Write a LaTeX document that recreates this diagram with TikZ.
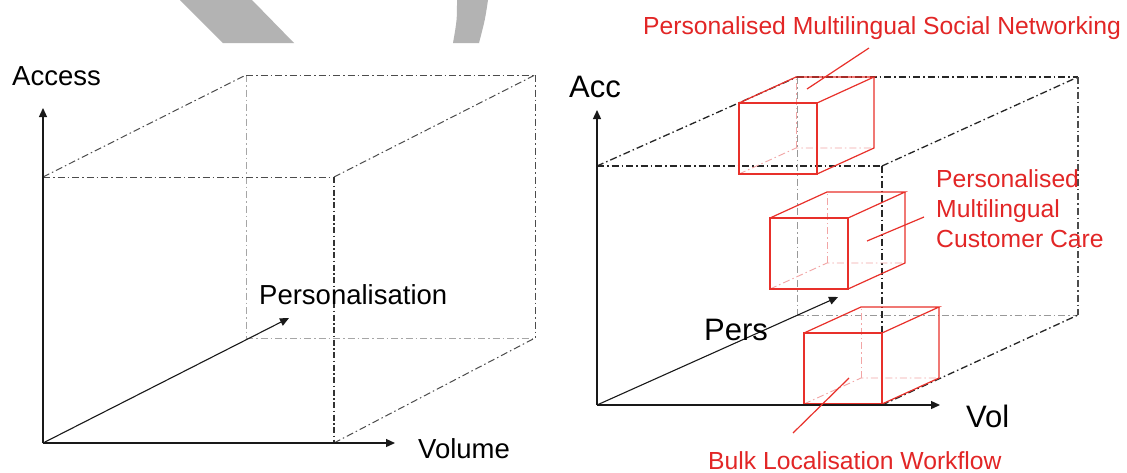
\documentclass[tikz,border=0pt]{standalone}
\usepackage{fontspec}
\setmainfont{Liberation Sans}
\usetikzlibrary{arrows.meta}
\definecolor{redline}{RGB}{232,48,42}
\definecolor{redtext}{RGB}{226,38,38}
\definecolor{pinkhid}{RGB}{242,165,165}
\definecolor{wmgray}{RGB}{179,179,179}
\newcommand{\drawredbox}[3]{%
  \coordinate (#1-ftl) at (#2,#3);
  \coordinate (#1-ftr) at ({#2+78},#3);
  \coordinate (#1-fbr) at ({#2+78},{#3+71});
  \coordinate (#1-fbl) at (#2,{#3+71});
  \coordinate (#1-btl) at ({#2+57},{#3-26});
  \coordinate (#1-btr) at ({#2+135},{#3-26});
  \coordinate (#1-bbr) at ({#2+135},{#3+45});
  \coordinate (#1-bbl) at ({#2+57},{#3+45});
  \draw[hidbox] (#1-fbl) -- (#1-bbl) -- (#1-bbr);
  \draw[hidbox] (#1-bbl) -- (#1-btl);
  \draw[redbox] (#1-ftl) -- (#1-ftr) -- (#1-fbr) -- (#1-fbl) -- cycle;
  \draw[redbox] (#1-ftl) -- (#1-btl) -- (#1-btr) -- (#1-ftr);
  \draw[redbox] (#1-fbr) -- (#1-bbr) -- (#1-btr);
}
\begin{document}
\begin{tikzpicture}[x=1pt,y=-1pt,
  axis/.style={line width=1.3pt, black!90, -{Triangle[length=9pt,width=8pt]}},
  ddl/.style={line width=1.0pt, black!70, dash pattern=on 7pt off 3pt on 1.5pt off 3pt},
  ddlfront/.style={line width=1.3pt, black!80, dash pattern=on 6pt off 2.5pt on 1.5pt off 2.5pt},
  ddlight/.style={line width=0.8pt, black!35, dash pattern=on 7pt off 3pt on 1.5pt off 3pt},
  ddr/.style={line width=1.3pt, black!85, dash pattern=on 7pt off 3pt on 1.5pt off 3pt},
  ddrlight/.style={line width=0.9pt, black!40, dash pattern=on 7pt off 3pt on 1.5pt off 3pt},
  redbox/.style={line width=1.2pt, redline},
  hidbox/.style={line width=0.9pt, pinkhid, dash pattern=on 7pt off 3pt on 1.5pt off 3pt},
  leader/.style={line width=1.2pt, redline},
  lbl/.style={inner sep=0pt, anchor=base west, font=\fontsize{27.5}{32}\selectfont},
  lblr/.style={inner sep=0pt, anchor=base west, font=\fontsize{31}{36}\selectfont},
  rlbl/.style={inner sep=0pt, anchor=base west, text=redtext, font=\fontsize{24.7}{30}\selectfont}
]
\useasboundingbox (0,0) rectangle (1127,472);
\fill[white] (0,0) rectangle (1127,472);

% grey shapes at the top edge
\fill[wmgray] (180,0) -- (252,0) -- (294,43) -- (223,43) -- cycle;
\fill[wmgray] (457,0) .. controls (457,20) .. (453,43) -- (479,43) .. controls (485,20) .. (488,0) -- cycle;

% ---------------- left figure ----------------
\coordinate (L-O) at (43,443);
\coordinate (L-Vtip) at (43,108);
\coordinate (L-Htip) at (395,443);
\coordinate (L-Ptip) at (289,318);
\coordinate (L-ftl) at (43,177);
\coordinate (L-ftr) at (334,177);
\coordinate (L-fbr) at (334,443);
\coordinate (L-btl) at (246,75);
\coordinate (L-btr) at (535,75);
\coordinate (L-bbr) at (535,338);
\coordinate (L-bbl) at (246,338);

\draw[ddlight] (L-btl) -- (L-bbl);
\draw[ddlight] (L-bbl) -- (L-bbr);
\draw[ddl] (L-ftl) -- (L-ftr);
\draw[ddl] (L-ftl) -- (L-btl);
\draw[ddl] (L-ftr) -- (L-btr);
\draw[ddl] (L-btl) -- (L-btr);
\draw[ddl] (L-btr) -- (L-bbr);
\draw[ddl] (L-fbr) -- (L-bbr);
\draw[ddlfront] (L-ftr) -- (L-fbr);

\draw[axis] (L-O) -- (L-Vtip);
\draw[axis] (L-O) -- (L-Htip);
\draw[axis, line width=1.1pt] (L-O) -- (L-Ptip);

\node[lbl] (access) at (12,85) {Access};
\node[lbl] (personalisation) at (259,304) {Personalisation};
\node[lbl] (volume) at (418,458) {Volume};

% ---------------- right figure ----------------
\coordinate (R-O) at (597,405);
\coordinate (R-Vtip) at (597,110);
\coordinate (R-Htip) at (940,405);
\coordinate (R-Ptip) at (838,297);
\coordinate (R-ftl) at (597,166);
\coordinate (R-ftr) at (882,166);
\coordinate (R-fbr) at (882,405);
\coordinate (R-btl) at (797,77);
\coordinate (R-btr) at (1078,77);
\coordinate (R-bbr) at (1078,315);
\coordinate (R-bbl) at (797,315);

\draw[ddrlight] (R-btl) -- (R-bbl);
\draw[ddrlight] (R-bbl) -- (R-bbr);
\draw[ddr] (R-ftl) -- (R-ftr);
\draw[ddr] (R-ftl) -- (R-btl);
\draw[ddr] (R-ftr) -- (R-btr);
\draw[ddr] (R-btl) -- (R-btr);
\draw[ddr, black!70] (R-btr) -- (R-bbr);
\draw[ddr] (R-fbr) -- (R-bbr);
\draw[ddr] (R-ftr) -- (R-fbr);

\drawredbox{boxA}{739}{103}
\drawredbox{boxB}{770}{218}
\drawredbox{boxC}{804}{333}

\draw[axis] (R-O) -- (R-Vtip);
\draw[axis] (R-O) -- (R-Htip);
\draw[axis, line width=1.1pt] (R-O) -- (R-Ptip);

\node[lblr] (acc) at (569,97) {Acc};
\node[lblr] (pers) at (704,340) {Pers};
\node[lblr] (vol) at (966,427) {Vol};

% red labels and leaders
\node[rlbl] (social) at (643,34) {Personalised Multilingual Social Networking};
\node[rlbl] (care1) at (936,187) {Personalised};
\node[rlbl] (care2) at (936,217) {Multilingual};
\node[rlbl] (care3) at (936,247) {Customer Care};
\node[rlbl] (bulk) at (708,469) {Bulk Localisation Workflow};

\coordinate (socialA) at (869,48);
\coordinate (socialB) at (807,89);
\coordinate (careA) at (924,217);
\coordinate (careB) at (867,241);
\coordinate (bulkA) at (793,433);
\coordinate (bulkB) at (849,378);
\draw[leader] (socialA) -- (socialB);
\draw[leader] (careA) -- (careB);
\draw[leader] (bulkA) -- (bulkB);
\end{tikzpicture}
\end{document}
